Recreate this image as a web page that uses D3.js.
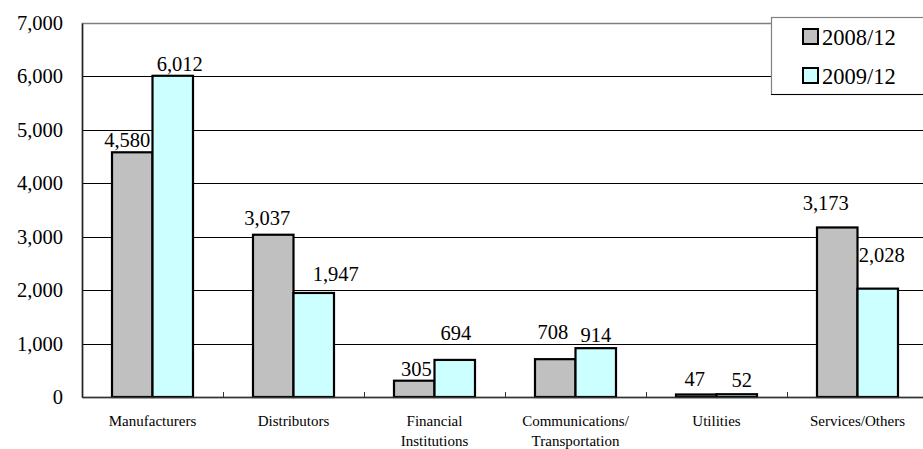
<!DOCTYPE html>
<html>
<head>
<meta charset="utf-8">
<script src="https://cdn.jsdelivr.net/npm/d3@7"></script>
</head>
<body style="margin:0;background:#fff">
<svg id="chart" width="923" height="449" style="display:block"></svg>
<script>
// Loans outstanding by borrower type
const categories = ["Manufacturers", "Distributors", "Financial\nInstitutions",
                    "Communications/\nTransportation", "Utilities", "Services/Others"];
const seriesNames = ["2008/12", "2009/12"];
const values2008 = [4580, 3037, 305, 708, 47, 3173];
const values2009 = [6012, 1947, 694, 914, 52, 2028];
const yTicks = [0, 1000, 2000, 3000, 4000, 5000, 6000, 7000];

const seriesValues = [values2008, values2009];
const fills = ["#C0C0C0", "#CCFFFF"];
const serif = "'Liberation Serif'";

// Hand-placed value labels: offsets (px) from the default spot above each bar
const labelNudge = [
  [[-5, 0], [-6, -5], [2, 0], [-2.5, -15], [-1.5, -3], [-11.5, -12]],
  [[7, 0], [22, -7], [1, -15], [0, -1.5], [5, -2.5], [4, -22]]
];

const svg = d3.select("#chart");
const plot = { left: 82, right: 928, top: 23, bottom: 397 };

const x = d3.scaleBand().domain(categories).range([plot.left, plot.right]).padding(0);
const bw = x.bandwidth();
const barW = 40.5;
const x1 = d3.scaleBand().domain(seriesNames)
  .range([(bw - 2 * barW) / 2, (bw + 2 * barW) / 2]).padding(0);
const y = d3.scaleLinear().domain([0, 7000]).range([plot.bottom, plot.top]);

// plot frame (top / right)
svg.append("rect")
  .attr("x", plot.left + 0.5).attr("y", plot.top + 0.5)
  .attr("width", plot.right - plot.left).attr("height", plot.bottom - plot.top)
  .attr("fill", "#fff").attr("stroke", "#808080").attr("stroke-width", 1.5);

// horizontal gridlines
svg.append("g").selectAll("line")
  .data(yTicks.filter(t => t > 0 && t < 7000))
  .join("line")
  .attr("x1", plot.left).attr("x2", plot.right)
  .attr("y1", d => Math.round(y(d)) + 0.5).attr("y2", d => Math.round(y(d)) + 0.5)
  .attr("stroke", "#000").attr("stroke-width", 1);

// bars
const groups = svg.append("g").selectAll("g")
  .data(categories)
  .join("g")
  .attr("transform", d => `translate(${x(d)},0)`);

groups.selectAll("rect")
  .data((c, i) => seriesNames.map((s, k) => ({ s, k, v: seriesValues[k][i] })))
  .join("rect")
  .attr("x", d => x1(d.s))
  .attr("y", d => y(d.v))
  .attr("width", x1.bandwidth())
  .attr("height", d => y(0) - y(d.v))
  .attr("fill", d => fills[d.k])
  .attr("stroke", "#000").attr("stroke-width", 2.2);

// y axis
const yAxis = d3.axisLeft(y).tickValues(yTicks).tickFormat(d3.format(",")).tickSize(0).tickPadding(19);
const gy = svg.append("g").attr("transform", `translate(${plot.left},0)`).call(yAxis);
gy.attr("font-family", null).attr("font-size", null);
gy.select(".domain").attr("stroke", "#222").attr("stroke-width", 1.5);
gy.selectAll("text")
  .attr("font-size", 20.5).attr("fill", "#000")
  .attr("font-family", "Liberation Serif")
  .style("font-family", serif);

// x axis
const xAxis = d3.axisBottom(x).tickSize(0).tickFormat("");
const gx = svg.append("g").attr("transform", `translate(0,${plot.bottom})`).call(xAxis);
gx.select(".domain").attr("stroke", "#333").attr("stroke-width", 1.6);
// inward tick marks on band boundaries
svg.append("g").selectAll("line")
  .data(categories.slice(1))
  .join("line")
  .attr("x1", d => Math.round(x(d)) + 0.5).attr("x2", d => Math.round(x(d)) + 0.5)
  .attr("y1", plot.bottom).attr("y2", plot.bottom - 5)
  .attr("stroke", "#333").attr("stroke-width", 1);

// category labels, one text per line
categories.forEach(c => {
  c.split("\n").forEach((line, i) => {
    svg.append("text")
      .attr("x", x(c) + bw / 2)
      .attr("y", 426 + i * 20)
      .attr("text-anchor", "middle")
      .attr("font-size", 15)
      .attr("fill", "#000")
      .attr("font-family", "Liberation Serif")
      .style("font-family", serif)
      .text(line);
  });
});

// value labels
const fmt = d3.format(",");
categories.forEach((c, i) => {
  seriesNames.forEach((s, k) => {
    const v = seriesValues[k][i];
    const n = labelNudge[k][i];
    svg.append("text")
      .attr("x", x(c) + x1(s) + x1.bandwidth() / 2 + n[0])
      .attr("y", y(v) - 5 + n[1])
      .attr("text-anchor", "middle")
      .attr("font-size", 20.5)
      .attr("fill", "#000")
      .attr("font-family", "Liberation Serif")
      .style("font-family", serif)
      .text(fmt(v));
  });
});

// legend
const lg = svg.append("g");
lg.append("rect")
  .attr("x", 771.5).attr("y", 17.5).attr("width", 170).attr("height", 77)
  .attr("fill", "#fff").attr("stroke", "#808080").attr("stroke-width", 1.2);
lg.append("line")
  .attr("x1", 771).attr("x2", 941).attr("y1", 94.5).attr("y2", 94.5)
  .attr("stroke", "#000").attr("stroke-width", 1.2);
const rowsY = [29, 68];
seriesNames.forEach((s, k) => {
  lg.append("rect")
    .attr("x", 803).attr("y", rowsY[k]).attr("width", 15).attr("height", 15)
    .attr("fill", fills[k]).attr("stroke", "#000").attr("stroke-width", 2);
  lg.append("text")
    .attr("x", 822).attr("y", rowsY[k] + 16)
    .attr("font-size", 22.5).attr("fill", "#000")
    .attr("font-family", "Liberation Serif")
    .style("font-family", serif)
    .text(s);
});
</script>
</body>
</html>
